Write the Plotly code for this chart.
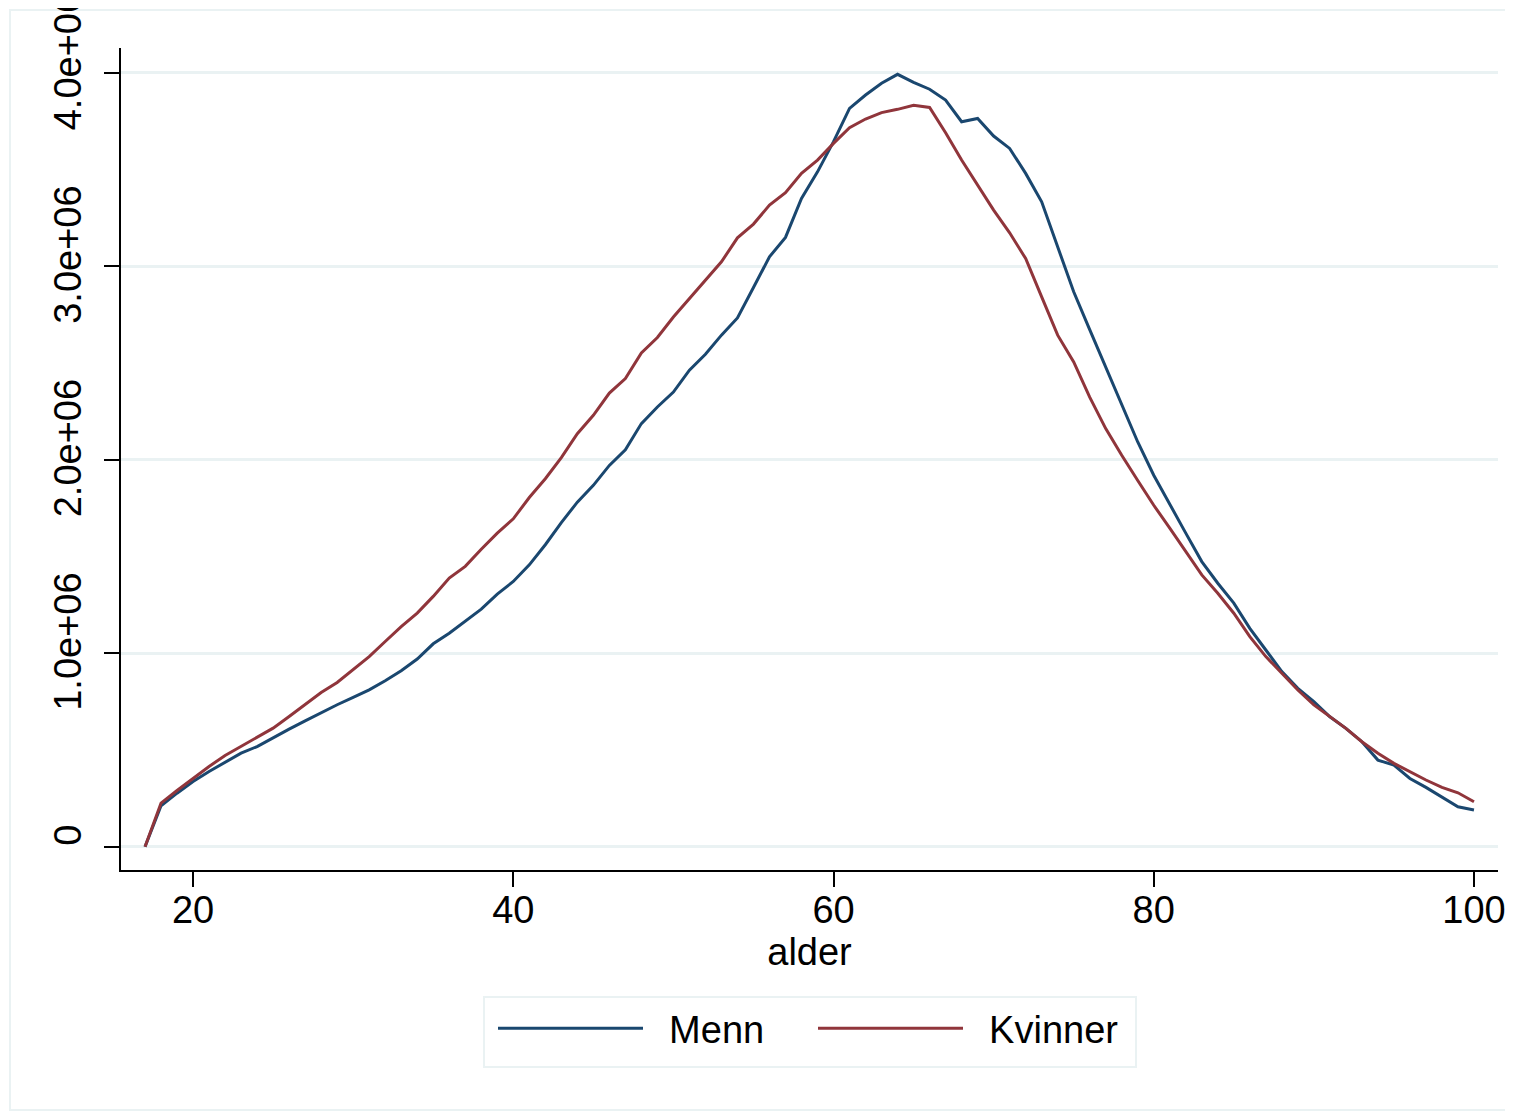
import plotly.graph_objects as go

ages = list(range(17, 101))

menn = [0, 0.212, 0.277, 0.337, 0.389, 0.436, 0.484, 0.518, 0.565, 0.608,
        0.651, 0.694, 0.734, 0.772, 0.811, 0.858, 0.910, 0.970, 1.049, 1.104,
        1.164, 1.228, 1.306, 1.371, 1.457, 1.561, 1.675, 1.781, 1.868, 1.971,
        2.052, 2.187, 2.273, 2.350, 2.463, 2.545, 2.644, 2.733, 2.890, 3.049,
        3.149, 3.351, 3.488, 3.644, 3.816, 3.885, 3.946, 3.992, 3.950, 3.915,
        3.859, 3.747, 3.764, 3.673, 3.609, 3.480, 3.333, 3.100, 2.868, 2.673,
        2.480, 2.290, 2.092, 1.920, 1.767, 1.621, 1.474, 1.362, 1.259, 1.129,
        1.017, 0.905, 0.819, 0.750, 0.672, 0.612, 0.543, 0.448, 0.422, 0.353,
        0.307, 0.259, 0.207, 0.190]

kvinner = [0, 0.226, 0.291, 0.355, 0.415, 0.472, 0.518, 0.565, 0.613, 0.673,
           0.737, 0.797, 0.849, 0.915, 0.983, 1.061, 1.138, 1.208, 1.294, 1.389,
           1.449, 1.538, 1.621, 1.695, 1.805, 1.902, 2.011, 2.135, 2.230, 2.345,
           2.420, 2.552, 2.632, 2.738, 2.833, 2.932, 3.023, 3.147, 3.218, 3.316,
           3.380, 3.480, 3.549, 3.635, 3.716, 3.761, 3.794, 3.811, 3.832, 3.821,
           3.690, 3.549, 3.420, 3.290, 3.173, 3.040, 2.842, 2.644, 2.506, 2.324,
           2.161, 2.023, 1.893, 1.765, 1.647, 1.526, 1.405, 1.310, 1.207, 1.086,
           0.983, 0.897, 0.810, 0.733, 0.672, 0.612, 0.543, 0.483, 0.431, 0.388,
           0.345, 0.307, 0.279, 0.233]

y_tickvals = [0, 1e6, 2e6, 3e6, 4e6]
y_ticktext = ["0", "1.0e+06", "2.0e+06", "3.0e+06", "4.0e+06"]
x_tickvals = [20, 40, 60, 80, 100]
series_names = ["Menn", "Kvinner"]

# page offset (browser body margin)
OFF = 8
W, H = 1513 - OFF, 1115 - OFF
ML, MR, MT, MB = 121 - OFF, 15, 48 - OFF, 245
pw, ph = W - ML - MR, H - MT - MB


def px(x):
    # reference-screen pixel x -> paper coordinate
    return (x - OFF - ML) / pw


def py(y):
    # reference-screen pixel y -> paper coordinate
    return (H - MB - (y - OFF)) / ph


NAVY = "#1A476F"
MAROON = "#90353B"
GRID = "#EAF2F3"
FONT = "Liberation Sans, Arial, sans-serif"
NB = "\u00a0\u00a0"

fig = go.Figure()
fig.add_trace(go.Scatter(x=ages, y=[v * 1e6 for v in menn], mode="lines",
                         name=NB + series_names[0], line=dict(color=NAVY, width=3)))
fig.add_trace(go.Scatter(x=ages, y=[v * 1e6 for v in kvinner], mode="lines",
                         name=NB + series_names[1], line=dict(color=MAROON, width=3)))

fig.update_layout(
    width=W, height=H,
    margin=dict(l=ML, r=MR, t=MT, b=MB, autoexpand=False),
    paper_bgcolor="white", plot_bgcolor="white",
    font=dict(family=FONT, size=38, color="black"),
    showlegend=True,
    legend=dict(orientation="h", x=px(493), xanchor="left", y=py(997), yanchor="top",
                borderwidth=0, bgcolor="rgba(0,0,0,0)",
                font=dict(size=38), itemwidth=145, entrywidth=160,
                traceorder="normal"),
    shapes=[
        dict(type="rect", xref="paper", yref="paper",
             x0=px(10), x1=px(1530), y0=py(1110), y1=py(10),
             line=dict(color=GRID, width=2), layer="below"),
        dict(type="rect", xref="paper", yref="paper",
             x0=px(484), x1=px(1136), y0=py(1067), y1=py(997),
             line=dict(color=GRID, width=2), layer="below"),
    ],
)

fig.update_xaxes(range=[15.5, 101.5], tickvals=x_tickvals, showgrid=False,
                 zeroline=False, showline=True, linecolor="black", linewidth=1.5,
                 ticks="outside", ticklen=15, tickwidth=1.5, tickcolor="black",
                 tickfont=dict(size=38), ticklabelstandoff=-9,
                 title=dict(text="alder", font=dict(size=38), standoff=0))
fig.update_yaxes(range=[-0.12e6, 4.128e6], tickvals=y_tickvals, ticktext=y_ticktext,
                 showgrid=True, gridcolor=GRID, gridwidth=3, zeroline=False,
                 showline=True, linecolor="black", linewidth=1.5,
                 ticks="outside", ticklen=15, tickwidth=1.5, tickcolor="black",
                 tickangle=-90, tickfont=dict(size=38), ticklabelstandoff=8,
                 ticklabelshift=-6, ticklabeloverflow="allow")

fig.write_html("out.html")
